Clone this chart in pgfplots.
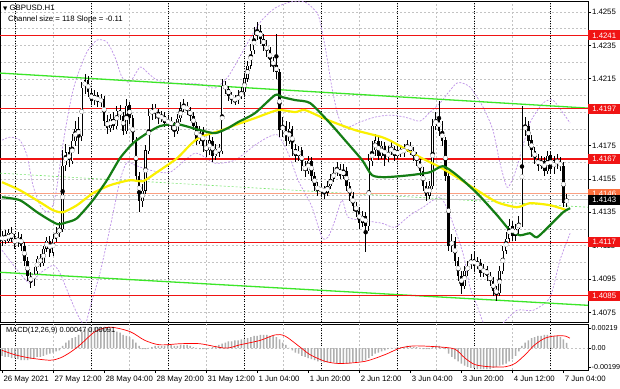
\documentclass[border=0pt]{standalone}
\usepackage{pgfplots}
\pgfplotsset{compat=1.18}
\usepackage{pgfplotstable}
\usepackage{fontspec}
\setmainfont{Liberation Sans}
\newfontfamily\dejavu{DejaVu Sans}
\definecolor{lvl}{RGB}{240,20,20}
\definecolor{chan}{RGB}{60,230,40}
\definecolor{chanmid}{RGB}{120,230,110}
\definecolor{maY}{RGB}{250,240,0}
\definecolor{maG}{RGB}{20,125,20}
\definecolor{band}{RGB}{190,145,232}
\definecolor{salm}{RGB}{250,160,130}
\definecolor{gridc}{RGB}{195,195,195}
\definecolor{histc}{RGB}{175,175,175}
\newcommand\tf{\fontsize{7.8}{9}\selectfont}

\pgfplotstableread[row sep=\\]{
o h l c\\
1.4118 1.4124 1.4115 1.4121\\
1.4121 1.41245 1.4116 1.4118\\
1.4118 1.4125 1.41165 1.41228\\
1.41228 1.4126 1.4117 1.41192\\
1.41192 1.4122 1.4113 1.41162\\
1.41162 1.4123 1.4114 1.41204\\
1.41204 1.4122 1.4112 1.4115\\
1.4115 1.4117 1.4103 1.4106\\
1.4106 1.4108 1.4094 1.4097\\
1.4097 1.4099 1.40895 1.40928\\
1.40928 1.4102 1.4091 1.41\\
1.41 1.4109 1.4098 1.41072\\
1.41072 1.411 1.4102 1.41048\\
1.41048 1.4115 1.4103 1.41132\\
1.41132 1.412 1.4111 1.4118\\
1.4118 1.41205 1.4108 1.41108\\
1.41108 1.4122 1.4109 1.41192\\
1.41192 1.4126 1.4117 1.41228\\
1.41228 1.4129 1.412 1.41252\\
1.41252 1.4172 1.4123 1.4163\\
1.4163 1.4176 1.416 1.41708\\
1.41708 1.4174 1.4162 1.4166\\
1.4166 1.4182 1.4164 1.4178\\
1.4178 1.419 1.4175 1.41852\\
1.41852 1.4192 1.417 1.4181\\
1.4181 1.4213 1.4178 1.42098\\
1.42098 1.4218 1.4206 1.4214\\
1.4214 1.4217 1.4204 1.42068\\
1.42068 1.4209 1.4199 1.4202\\
1.4202 1.4208 1.4199 1.4205\\
1.4205 1.4207 1.4198 1.42008\\
1.42008 1.4206 1.4198 1.42032\\
1.42032 1.4205 1.4187 1.419\\
1.419 1.4193 1.4182 1.41858\\
1.41858 1.4194 1.4183 1.41912\\
1.41912 1.4195 1.4184 1.4187\\
1.4187 1.4199 1.4185 1.4196\\
1.4196 1.4199 1.419 1.4193\\
1.4193 1.4195 1.4181 1.4184\\
1.4184 1.4203 1.4182 1.4199\\
1.4199 1.4201 1.4188 1.41912\\
1.41912 1.4193 1.4175 1.4178\\
1.4178 1.418 1.4154 1.4157\\
1.4157 1.4159 1.4135 1.4142\\
1.4142 1.4152 1.4138 1.4148\\
1.4148 1.4175 1.4146 1.4172\\
1.4172 1.4197 1.417 1.4193\\
1.4193 1.42 1.419 1.41972\\
1.41972 1.42 1.4191 1.41948\\
1.41948 1.4197 1.4188 1.41912\\
1.41912 1.4196 1.4189 1.4193\\
1.4193 1.4195 1.4186 1.41888\\
1.41888 1.4193 1.4186 1.419\\
1.419 1.4192 1.4184 1.4187\\
1.4187 1.4189 1.418 1.4184\\
1.4184 1.4194 1.4182 1.41912\\
1.41912 1.4201 1.4189 1.41972\\
1.41972 1.4203 1.4195 1.4199\\
1.4199 1.4201 1.4193 1.4196\\
1.4196 1.4198 1.419 1.4193\\
1.4193 1.4195 1.4184 1.4187\\
1.4187 1.4189 1.4175 1.4178\\
1.4178 1.4187 1.4176 1.4184\\
1.4184 1.4186 1.4171 1.4175\\
1.4175 1.4178 1.4168 1.4172\\
1.4172 1.4181 1.4169 1.4178\\
1.4178 1.418 1.4165 1.4169\\
1.4169 1.4176 1.4166 1.41732\\
1.41732 1.4176 1.4168 1.4172\\
1.4172 1.4215 1.417 1.4211\\
1.4211 1.4214 1.4206 1.42092\\
1.42092 1.4211 1.4202 1.4205\\
1.4205 1.4207 1.42 1.42032\\
1.42032 1.4205 1.4199 1.4202\\
1.4202 1.4208 1.42 1.4205\\
1.4205 1.421 1.4203 1.42068\\
1.42068 1.4218 1.4205 1.42152\\
1.42152 1.4226 1.4213 1.4223\\
1.4223 1.4236 1.4221 1.4232\\
1.4232 1.4246 1.423 1.4241\\
1.4241 1.4249 1.4238 1.4244\\
1.4244 1.4247 1.4236 1.42392\\
1.42392 1.4242 1.4232 1.4235\\
1.4235 1.4238 1.4228 1.4232\\
1.4232 1.4234 1.4222 1.4226\\
1.4226 1.4228 1.4219 1.4223\\
1.4223 1.4242 1.4215 1.42188\\
1.42188 1.4221 1.418 1.4184\\
1.4184 1.4192 1.418 1.4187\\
1.4187 1.419 1.4175 1.4178\\
1.4178 1.4189 1.4176 1.41852\\
1.41852 1.4187 1.4169 1.41732\\
1.41732 1.4176 1.4165 1.4169\\
1.4169 1.4175 1.4166 1.4172\\
1.4172 1.4174 1.416 1.4163\\
1.4163 1.4166 1.4156 1.416\\
1.416 1.4169 1.4158 1.4166\\
1.4166 1.4168 1.4154 1.4157\\
1.4157 1.4159 1.4148 1.4151\\
1.4151 1.4153 1.4145 1.4148\\
1.4148 1.4152 1.4145 1.41492\\
1.41492 1.4151 1.4143 1.41468\\
1.41468 1.4154 1.4145 1.4151\\
1.4151 1.4158 1.4149 1.41552\\
1.41552 1.4162 1.4153 1.41588\\
1.41588 1.4165 1.4157 1.41612\\
1.41612 1.4164 1.4155 1.4157\\
1.4157 1.4164 1.4155 1.416\\
1.416 1.4162 1.4148 1.4151\\
1.4151 1.4153 1.4142 1.4145\\
1.4145 1.4147 1.4136 1.4139\\
1.4139 1.4141 1.4132 1.4136\\
1.4136 1.4138 1.4125 1.41288\\
1.41288 1.4136 1.4126 1.4133\\
1.4133 1.4135 1.4111 1.4127\\
1.4127 1.417 1.4124 1.4166\\
1.4166 1.4178 1.4163 1.4172\\
1.4172 1.4182 1.4169 1.4178\\
1.4178 1.418 1.4166 1.4169\\
1.4169 1.4178 1.4167 1.4175\\
1.4175 1.4177 1.4163 1.41672\\
1.41672 1.4175 1.4165 1.4172\\
1.4172 1.4177 1.4169 1.41732\\
1.41732 1.4175 1.4166 1.4169\\
1.4169 1.4175 1.4167 1.4172\\
1.4172 1.4175 1.4168 1.41708\\
1.41708 1.4176 1.4168 1.41732\\
1.41732 1.4178 1.4171 1.4175\\
1.4175 1.4177 1.4169 1.4172\\
1.4172 1.4174 1.4166 1.4169\\
1.4169 1.4171 1.4163 1.4166\\
1.4166 1.4168 1.4157 1.416\\
1.416 1.4162 1.4148 1.4151\\
1.4151 1.4153 1.4142 1.4145\\
1.4145 1.4154 1.4143 1.4151\\
1.4151 1.4191 1.4149 1.4187\\
1.4187 1.4195 1.4184 1.41912\\
1.41912 1.4202 1.4181 1.4184\\
1.4184 1.419 1.4175 1.4178\\
1.4178 1.418 1.4154 1.4157\\
1.4157 1.4159 1.4112 1.4115\\
1.4115 1.4122 1.4111 1.4118\\
1.4118 1.412 1.4103 1.4106\\
1.4106 1.4108 1.4094 1.4097\\
1.4097 1.41 1.4086 1.4091\\
1.4091 1.4103 1.4089 1.41\\
1.41 1.4106 1.4097 1.4103\\
1.4103 1.411 1.4101 1.41072\\
1.41072 1.4111 1.41 1.4103\\
1.4103 1.4108 1.4101 1.41048\\
1.41048 1.4107 1.4096 1.40988\\
1.40988 1.4104 1.4096 1.41012\\
1.41012 1.4103 1.4094 1.4097\\
1.4097 1.4099 1.4091 1.4094\\
1.4094 1.4096 1.4085 1.4088\\
1.4088 1.4091 1.4082 1.40868\\
1.40868 1.4103 1.4085 1.41\\
1.41 1.4115 1.4098 1.4112\\
1.4112 1.4123 1.411 1.41192\\
1.41192 1.4131 1.4117 1.4127\\
1.4127 1.413 1.4118 1.4121\\
1.4121 1.4128 1.4118 1.41252\\
1.41252 1.4133 1.4122 1.41288\\
1.41288 1.4199 1.4126 1.4184\\
1.4184 1.4192 1.4181 1.4187\\
1.4187 1.419 1.4175 1.4178\\
1.4178 1.4181 1.4168 1.4172\\
1.4172 1.4174 1.4164 1.41672\\
1.41672 1.417 1.416 1.4163\\
1.4163 1.4169 1.4161 1.4166\\
1.4166 1.4168 1.4157 1.416\\
1.416 1.4172 1.4158 1.4169\\
1.4169 1.4171 1.4158 1.41608\\
1.41608 1.4169 1.4158 1.4166\\
1.4166 1.417 1.4161 1.41648\\
1.41648 1.4168 1.416 1.4163\\
1.4163 1.4165 1.4138 1.41408\\
1.41408 1.4146 1.4138 1.41426\\
}\candles

\pgfplotstableread[row sep=\\]{
h\\
-0.0007\\ -0.0008\\ -0.0008\\ -0.0009\\ -0.0009\\ -0.0010\\ -0.0011\\ -0.0011\\ -0.0011\\ -0.0010\\
-0.0009\\ -0.0008\\ -0.0008\\ -0.0007\\ -0.0006\\ -0.0005\\ -0.0004\\ -0.0003\\ -0.0002\\ 0.0002\\
0.0005\\ 0.0007\\ 0.0009\\ 0.0010\\ 0.0012\\ 0.0015\\ 0.0017\\ 0.0018\\ 0.0019\\ 0.0019\\
0.0019\\ 0.0019\\ 0.0018\\ 0.0018\\ 0.0017\\ 0.0016\\ 0.0015\\ 0.0014\\ 0.0012\\ 0.0011\\
0.0010\\ 0.0008\\ 0.0005\\ 0.0002\\ -0.0001\\ -0.0001\\ 0.00002\\ 0.0001\\ 0.0002\\ 0.0002\\
0.0002\\ 0.0002\\ 0.0003\\ 0.0003\\ 0.0002\\ 0.0002\\ 0.0003\\ 0.0003\\ 0.0003\\ 0.0002\\
0.0001\\ 0.00002\\ -0.0001\\ -0.0001\\ -0.0001\\ 0.00002\\ 0.0001\\ 0.0002\\ 0.0003\\ 0.0004\\
0.0005\\ 0.0006\\ 0.0006\\ 0.0007\\ 0.0007\\ 0.0008\\ 0.0008\\ 0.0009\\ 0.0010\\ 0.0011\\
0.0011\\ 0.0012\\ 0.0012\\ 0.0012\\ 0.0011\\ 0.0011\\ 0.0010\\ 0.0008\\ 0.0005\\ 0.0003\\
0.00002\\ -0.0002\\ -0.0004\\ -0.0005\\ -0.0007\\ -0.0008\\ -0.0009\\ -0.0010\\ -0.0011\\ -0.0012\\
-0.0012\\ -0.0013\\ -0.0013\\ -0.0013\\ -0.0013\\ -0.0014\\ -0.0014\\ -0.0014\\ -0.0014\\ -0.0014\\
-0.0013\\ -0.0013\\ -0.0012\\ -0.0012\\ -0.0011\\ -0.0009\\ -0.0007\\ -0.0005\\ -0.0004\\ -0.0003\\
-0.0002\\ -0.0001\\ 0.00002\\ 0.00002\\ 0.0001\\ 0.0001\\ 0.0001\\ 0.0002\\ 0.0002\\ 0.0001\\
0.0001\\ 0.00002\\ -0.0001\\ -0.0001\\ -0.0001\\ 0.0001\\ 0.0002\\ 0.0002\\ 0.0001\\ -0.0001\\
-0.0005\\ -0.0008\\ -0.0010\\ -0.0012\\ -0.0014\\ -0.0016\\ -0.0017\\ -0.0018\\ -0.0018\\ -0.0019\\
-0.0019\\ -0.0019\\ -0.0019\\ -0.0019\\ -0.0018\\ -0.0017\\ -0.0016\\ -0.0015\\ -0.0014\\ -0.0012\\
-0.0010\\ -0.0007\\ -0.0003\\ 0.0002\\ 0.0005\\ 0.0007\\ 0.0009\\ 0.0010\\ 0.0011\\ 0.0011\\
0.0012\\ 0.0012\\ 0.0012\\ 0.0011\\ 0.0011\\ 0.0010\\ 0.0008\\ 0.00047\\
}\hist

\begin{document}
\begin{tikzpicture}[x=1pt,y=1pt]
\fill[white] (0,0) rectangle (620,388);
\begin{axis}[name=main, at={(0pt,66pt)}, anchor=south west, scale only axis,
  width=588pt, height=321pt,
  xmin=-0.63, xmax=183.7, ymin=1.40692, ymax=1.42616,
  axis line style={black, line width=0.6pt},
  xtick={4,16,...,172}, xticklabels={}, xtick style={draw=none},
  xmajorgrids=true,
  ytick={1.4075,1.4095,1.4115,1.4135,1.4155,1.4175,1.4195,1.4215,1.4235,1.4255},
  minor ytick={1.4085,1.4105,1.4125,1.4145,1.4165,1.4185,1.4205,1.4225,1.4245},
  ymajorgrids=true, yminorgrids=true,
  grid style={gridc, dash pattern=on 2pt off 2pt, line width=0.4pt},
  minor grid style={gridc, dash pattern=on 2pt off 2pt, line width=0.4pt},
  minor tick length=0pt,
  ytick pos=right, yticklabel pos=right, tick align=outside, major tick length=3pt,
  ytick style={black, line width=0.5pt},
  scaled y ticks=false,
  yticklabel style={font=\tf, inner xsep=0.8pt, /pgf/number format/.cd, fixed, fixed zerofill, precision=4, assume math mode=true},
  clip=true,
]
% day separators
\pgfplotsinvokeforeach{4,28,52,76,100,124,148,172}{
  \addplot[black, line width=0.5pt, dash pattern=on 1pt off 1.5pt, forget plot] coordinates {(#1,1.40692) (#1,1.42616)};
}
% bands
\addplot[band, line width=0.7pt, dash pattern=on 2pt off 1.5pt, smooth, tension=0.4] coordinates {
(0,1.41782) (2.5,1.418) (5.6,1.41782) (7.8,1.41692) (9.7,1.41512) (11.9,1.41392) (14.1,1.4135) (16,1.41392) (17.2,1.415) (18.8,1.41722) (20.4,1.41902) (21.9,1.42052) (23.5,1.4216) (26.6,1.4231) (29.8,1.42382) (32.9,1.4237) (35.4,1.4228) (37.6,1.4216) (40.1,1.4213) (43.3,1.4222) (45.8,1.42184) (48.6,1.42142) (53.6,1.42124) (62.1,1.42118) (66.8,1.42094) (70.8,1.4216) (75.2,1.42304) (79.3,1.42442) (81.5,1.42502) (85.6,1.42574) (90.3,1.4261) (95,1.4261) (99.1,1.42532) (101.3,1.4234) (103.4,1.421) (105.3,1.41932) (107.5,1.41854) (112.2,1.4189) (116.9,1.4192) (121.6,1.41932) (126.3,1.4192) (131,1.41896) (134.2,1.4195) (137.3,1.42004) (142.6,1.42124) (146.7,1.421) (150.8,1.4198) (153.9,1.41842) (156.1,1.41644) (158.3,1.415) (159.9,1.41542) (161.4,1.4162) (165.5,1.41884) (169.6,1.42004) (172.7,1.42022) (175.9,1.41944) (178.1,1.41884)};
\addplot[band, line width=0.7pt, dash pattern=on 2pt off 1.5pt, smooth, tension=0.4] coordinates {
(0,1.41122) (5.6,1.40984) (8.8,1.40924) (11.9,1.40984) (16,1.41032) (18.2,1.40984) (21.3,1.4084) (23.8,1.40732) (26,1.40672) (27.6,1.4078) (30.7,1.40984) (33.9,1.4126) (37,1.41542) (39.2,1.4165) (41.7,1.41632) (46.4,1.41602) (52.7,1.4159) (60.5,1.41704) (66.8,1.41644) (73,1.41662) (79.3,1.41752) (83.4,1.418) (86.5,1.41812) (89.7,1.41704) (92.8,1.41542) (95,1.41464) (97.2,1.4138) (100.3,1.412) (102.2,1.412) (104.4,1.41302) (106.6,1.41422) (108.5,1.4132) (112.9,1.41302) (119.1,1.41284) (123.2,1.4126) (127.9,1.41332) (132,1.4138) (137.3,1.4144) (140.4,1.41332) (144.5,1.41104) (146.7,1.409) (148.9,1.40792) (151.4,1.40672) (156.1,1.40672) (161.4,1.40762) (166.5,1.40762) (171.8,1.4084) (174.9,1.41062) (178.1,1.41224)};
% channel
\addplot[chan, line width=1.3pt] coordinates {(-0.63,1.42184) (183.7,1.41974)};
\addplot[chan, line width=1.3pt] coordinates {(-0.63,1.4099) (183.7,1.40792)};
\addplot[chanmid, line width=0.6pt, dash pattern=on 2pt off 2pt] coordinates {(-0.63,1.41584) (183.7,1.4138)};
% levels
\addplot[lvl, line width=1.4pt] coordinates {(-1,1.4241) (185,1.4241)};
\addplot[lvl, line width=1.4pt] coordinates {(-1,1.4197) (185,1.4197)};
\addplot[lvl, line width=1.4pt] coordinates {(-1,1.4167) (185,1.4167)};
\addplot[lvl, line width=1.4pt] coordinates {(-1,1.4117) (185,1.4117)};
\addplot[lvl, line width=1.4pt] coordinates {(-1,1.4085) (185,1.4085)};
\addplot[salm, line width=1.2pt] coordinates {(-1,1.4146) (185,1.4146)};
\addplot[gray!45, line width=0.5pt] coordinates {(-1,1.41426) (185,1.41426)};
% candles: wicks
\addplot[only marks, mark=none, black, forget plot,
  error bars/.cd, y dir=both, y explicit, error mark=none,
  error bar style={line width=0.75pt, solid}]
  table[x expr=\coordindex, y expr={(\thisrow{h}+\thisrow{l})/2}, y error expr={(\thisrow{h}-\thisrow{l})/2}] \candles;
% bodies
\addplot[only marks, mark=none, black, forget plot,
  error bars/.cd, y dir=both, y explicit, error mark=none,
  error bar style={line width=2.4pt, solid}]
  table[x expr=\coordindex, y expr={(\thisrow{o}+\thisrow{c})/2}, y error expr={max(abs(\thisrow{o}-\thisrow{c})/2,0.000008)}] \candles;
% bull inner
\addplot[only marks, mark=none, white, forget plot,
  error bars/.cd, y dir=both, y explicit, error mark=none,
  error bar style={line width=1.0pt, solid}]
  table[x expr=\coordindex, y expr={(\thisrow{o}+\thisrow{c})/2}, y error expr={max((\thisrow{c}-\thisrow{o})/2-0.000006,0)}] \candles;
% moving averages
\addplot[maY, line width=2.2pt, smooth, tension=0.4] coordinates {
(0,1.4153) (5.6,1.41482) (11.9,1.4141) (16,1.41362) (19.1,1.4135) (23.5,1.41392) (28.5,1.41464) (33.9,1.41512) (40.1,1.41542) (44.2,1.41536) (48.6,1.4159) (54.9,1.41674) (58.9,1.41752) (62.1,1.418) (69,1.41842) (73,1.41872) (79.3,1.41914) (86.5,1.41962) (91.9,1.4195) (95,1.41962) (102.2,1.41902) (110.7,1.41842) (119.1,1.418) (123.2,1.41764) (131,1.4168) (137.3,1.4162) (142.6,1.4156) (148.9,1.41482) (155.2,1.4141) (161.4,1.4138) (165.5,1.41404) (171.8,1.41392) (177.1,1.41362)};
\addplot[maG, line width=2.2pt, smooth, tension=0.4] coordinates {
(0,1.4144) (5.6,1.41422) (11,1.4135) (15,1.41302) (17.6,1.41278) (20.4,1.4129) (23.5,1.41314) (28.5,1.41422) (32.9,1.41542) (37,1.41674) (41.1,1.41764) (45.5,1.41824) (49.5,1.41866) (54.9,1.41878) (62.1,1.41842) (66.8,1.41824) (70.8,1.41854) (74,1.4189) (79.3,1.41944) (85.6,1.42052) (87.8,1.4204) (91.9,1.42022) (96.6,1.42004) (102.8,1.41884) (107.5,1.41782) (112.9,1.41662) (116,1.41572) (120.1,1.4156) (127.9,1.41572) (134.2,1.4159) (138.2,1.41626) (142.6,1.41572) (148.9,1.41464) (155.2,1.41332) (159.2,1.41242) (162.4,1.41212) (165.5,1.41224) (167.7,1.412) (171.8,1.41272) (175.9,1.4135) (178.1,1.41374)};
\coordinate (L1) at (axis cs:183.7,1.4241);
\coordinate (L2) at (axis cs:183.7,1.4197);
\coordinate (L3) at (axis cs:183.7,1.4167);
\coordinate (L4) at (axis cs:183.7,1.4117);
\coordinate (L5) at (axis cs:183.7,1.4085);
\coordinate (L6) at (axis cs:183.7,1.4146);
\coordinate (L7) at (axis cs:183.7,1.41426);
\end{axis}

\begin{axis}[name=macd, at={(0pt,18pt)}, anchor=south west, scale only axis,
  width=588pt, height=46pt,
  xmin=-0.63, xmax=183.7, ymin=-0.00199, ymax=0.00219,
  axis line style={black, line width=0.6pt},
  xtick={0,16,...,176},
  xticklabels={26 May 2021,27 May 12:00,28 May 04:00,28 May 20:00,31 May 12:00,1 Jun 04:00,1 Jun 20:00,2 Jun 12:00,3 Jun 04:00,3 Jun 20:00,4 Jun 12:00,7 Jun 04:00},
  xtick pos=bottom, xticklabel style={font=\tf, anchor=north west, xshift=-2pt, yshift=0pt},
  extra x ticks={4,16,...,172}, extra x tick labels={},
  extra x tick style={grid=major, major tick length=0pt},
  grid style={gridc, dash pattern=on 2pt off 2pt, line width=0.4pt},
  ytick={-0.00172,0,0.00183}, yticklabels={-0.00199,0.00,0.00219},
  ytick pos=right, yticklabel pos=right, tick align=outside, major tick length=3pt,
  tick style={black, line width=0.5pt},
  scaled y ticks=false,
  yticklabel style={font=\fontsize{7.2}{8}\selectfont, inner xsep=0.5pt},
  clip=true,
]
\pgfplotsinvokeforeach{4,28,52,76,100,124,148,172}{
  \addplot[black, line width=0.5pt, dash pattern=on 1pt off 1.5pt, forget plot] coordinates {(#1,-0.003) (#1,0.003)};
}
\addplot[gridc, line width=0.4pt, dash pattern=on 2pt off 2pt, forget plot] coordinates {(-1,0) (185,0)};
\addplot[ybar, bar width=1.5pt, fill=histc, draw=none] table[x expr=\coordindex, y=h] \hist;
\addplot[red, line width=0.7pt, smooth, tension=0.5] coordinates {
(0,-0.0002) (4,-0.0006) (8.8,-0.0009) (15,-0.0011) (18.2,-0.0009) (21.3,-0.0004) (24.5,0.0003) (29.2,0.0015) (33.9,0.0019) (40.1,0.0015) (44.8,0.0007) (49.5,0.0003) (56,0.0004) (62,0.0004) (70,0) (74.6,0.0003) (80.9,0.0007) (85.6,0.0012) (88.7,0.0011) (93.4,0.0001) (96.6,-0.0006) (101.3,-0.0012) (106,-0.0014) (113.8,-0.0012) (120,-0.0006) (124.8,0) (129.5,0.0002) (137.3,0.0001) (142,-0.0001) (145.1,-0.0009) (148.3,-0.0015) (153,-0.0017) (157.7,-0.0017) (160.8,-0.0014) (164,-0.0006) (167,0.0003) (170.2,0.0009) (173.3,0.0011) (176.5,0.0011) (178,0.0009)};
\end{axis}

% titles
\node[anchor=base west, font=\tf, inner sep=0pt] at (3,377) {{\dejavu\fontsize{5.5}{6}\selectfont ▼}\ GBPUSD.H1};
\node[anchor=base west, font=\tf, inner sep=0pt] at (8,366) {Channel size = 118 Slope = -0.11};
\node[anchor=base west, font=\fontsize{7.4}{8}\selectfont, inner sep=0pt] at (6,56) {MACD(12,26,9) 0.00047 0.00091};

% right-side price boxes
\tikzset{pbox/.style={anchor=west, font=\tf, text=white, inner xsep=2.5pt, inner ysep=0pt, minimum height=10pt, minimum width=32pt}}
\node[pbox, fill=lvl] at (L1) {1.4241};
\node[pbox, fill=lvl] at (L2) {1.4197};
\node[pbox, fill=lvl] at (L3) {1.4167};
\node[pbox, fill=lvl] at (L4) {1.4117};
\node[pbox, fill=lvl] at (L5) {1.4085};
\node[pbox, fill={rgb,255:red,250;green,110;blue,60}] at (L6) {1.4146};
\node[pbox, fill=black] at (L7) {1.4143};

\pgfresetboundingbox
\path[use as bounding box] (0,0) rectangle (620,388);
\end{tikzpicture}
\end{document}
